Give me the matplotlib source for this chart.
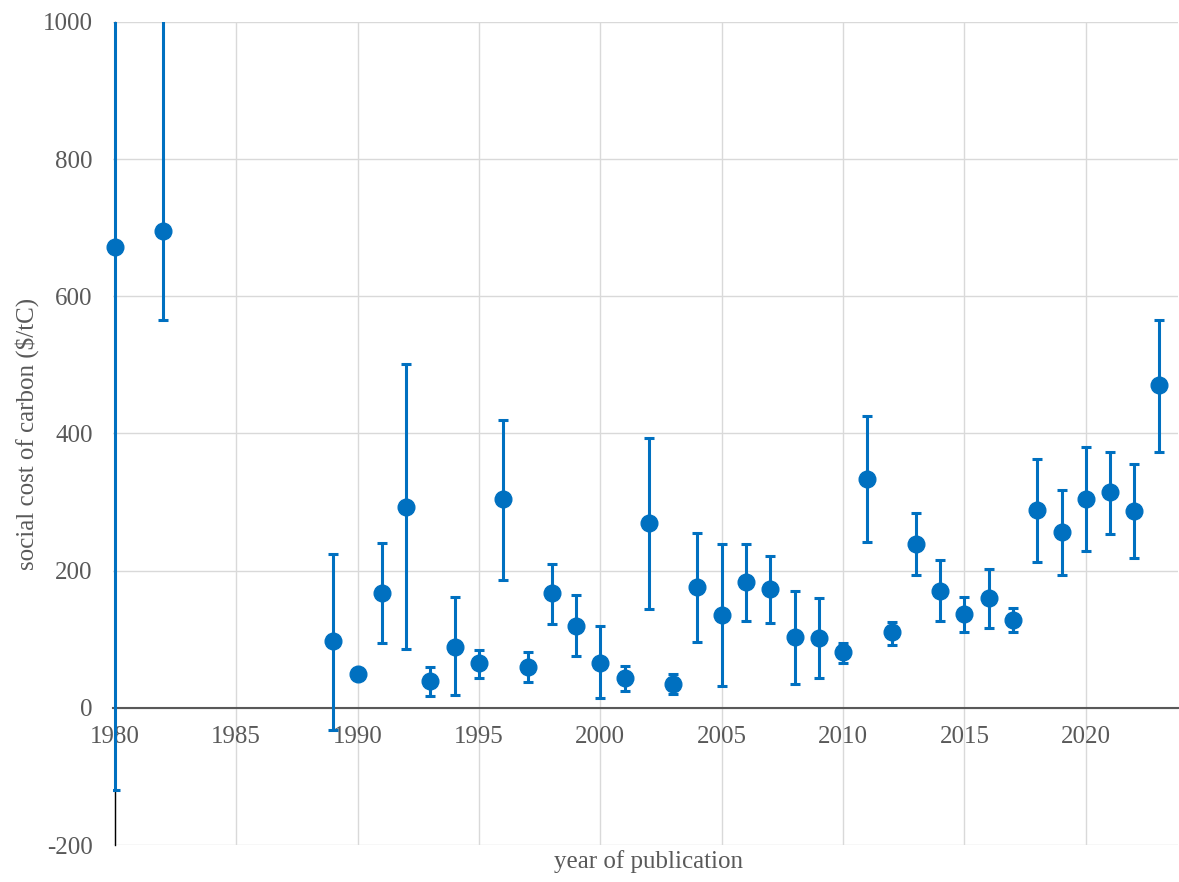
import matplotlib.pyplot as plt
import numpy as np

plt.rcParams['font.family'] = ['Liberation Serif', 'DejaVu Serif']
plt.rcParams['axes.unicode_minus'] = False

years = [1980, 1982, 1989, 1990, 1991, 1992, 1993, 1994, 1995, 1996, 1997, 1998,
         1999, 2000, 2001, 2002, 2003, 2004, 2005, 2006, 2007, 2008, 2009, 2010,
         2011, 2012, 2013, 2014, 2015, 2016, 2017, 2018, 2019, 2020, 2021, 2022, 2023]
scc = [672, 695, 97, 49, 167, 293, 39, 89, 65, 304, 59, 167,
       120, 66, 43, 269, 35, 176, 136, 183, 173, 103, 102, 81,
       334, 110, 239, 171, 137, 160, 128, 289, 257, 304, 314, 287, 470]
upper = [1500, 1500, 224, 49, 240, 501, 60, 161, 85, 420, 82, 210,
         164, 120, 61, 393, 49, 255, 239, 239, 221, 171, 160, 95,
         426, 125, 284, 215, 162, 203, 145, 363, 318, 380, 373, 356, 566]
lower = [-120, 565, -32, 49, 94, 86, 17, 19, 44, 187, 37, 122,
         76, 14, 24, 144, 20, 96, 32, 127, 123, 35, 43, 66,
         242, 92, 194, 126, 110, 116, 110, 212, 193, 229, 253, 218, 373]

scc = np.array(scc)
yerr = [scc - np.array(lower), np.array(upper) - scc]

blue = '#0070C0'
grey = '#595959'

fig = plt.figure(figsize=(11.79, 8.82), dpi=100)
ax = fig.add_axes([113 / 1179, 1 - 845 / 882, 1065 / 1179, 823 / 882])

# error bars (clipped at the axes), markers drawn on top without clipping
ax.errorbar(years, scc, yerr=yerr, fmt='none', ecolor=blue,
            elinewidth=2.2, capsize=3.5, capthick=2.2, zorder=3)
ax.plot(years, scc, 'o', color=blue, markersize=12, zorder=4, clip_on=False)

ax.set_xlim(1979.92, 2023.8)
ax.set_ylim(-200, 1000)
ax.set_xticks(np.arange(1980, 2021, 5))
ax.set_yticks(np.arange(-200, 1001, 200))
ax.grid(True, color='#d9d9d9', linewidth=1)
ax.set_axisbelow(True)

ax.spines['top'].set_visible(False)
ax.spines['right'].set_visible(False)
ax.spines['bottom'].set_position(('data', 0))
ax.spines['bottom'].set_color(grey)
ax.spines['bottom'].set_linewidth(1.5)
ax.spines['left'].set_position(('data', 1980))
ax.spines['left'].set_color('black')
ax.spines['left'].set_linewidth(1)

ax.tick_params(axis='both', length=0, labelsize=18, labelcolor=grey)
ax.tick_params(axis='x', pad=13)
ax.tick_params(axis='y', pad=16)

ax.set_ylabel('social cost of carbon ($/tC)', fontsize=18, color=grey, labelpad=3)
fig.text(648 / 1179, 1 - 862 / 882, 'year of publication', fontsize=18,
         color=grey, ha='center', va='center')

fig.savefig('out.png', dpi=100)
